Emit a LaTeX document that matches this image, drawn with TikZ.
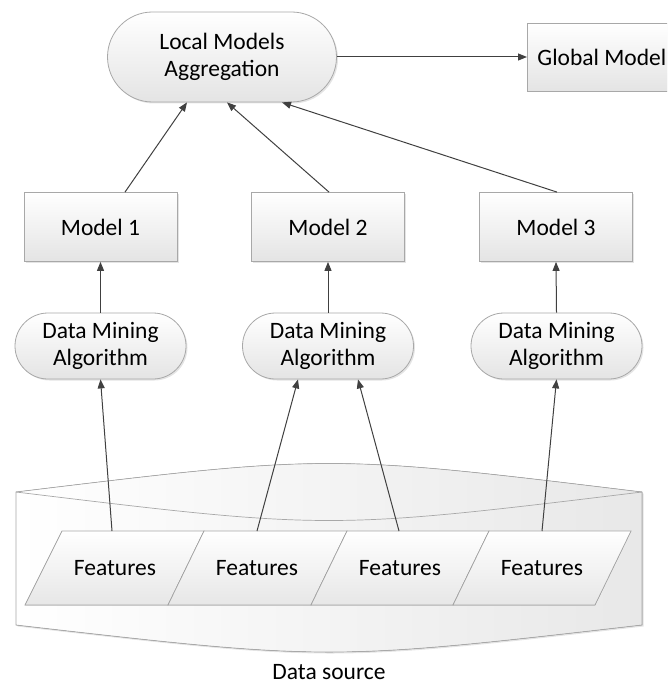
\documentclass[tikz,border=0pt]{standalone}
\usepackage{fontspec}
\setmainfont{Carlito}
\usetikzlibrary{arrows.meta,shapes.misc,shadows}
\definecolor{edgegray}{HTML}{A8A8A8}
\definecolor{arrowgray}{HTML}{404040}
\definecolor{fillgray}{HTML}{E4E4E4}

\begin{document}
\begin{tikzpicture}[x=1pt,y=-1pt,
  every node/.style={font=\fontsize{23.5}{27.5}\selectfont, text=black},
  softshadow/.style={drop shadow={shadow xshift=1.5pt,shadow yshift=-1.5pt,opacity=0.35,fill=black!30}},
  box/.style={rectangle, draw=edgegray, line width=0.8pt, top color=white, bottom color=fillgray,
    softshadow, minimum width=153pt, minimum height=69pt},
  pill/.style={rounded rectangle, draw=edgegray, line width=0.8pt, top color=white, bottom color=fillgray,
    softshadow, align=center, inner sep=0pt},
  featbox/.style={draw=edgegray, line width=0.7pt, top color=white, bottom color=fillgray!90},
  arr/.style={draw=arrowgray, line width=1pt, -{Triangle[length=9pt,width=7pt]}}
]
\useasboundingbox (0,0) rectangle (667,684);
\clip (0,0) rectangle (667,684);

% data source cylinder
\filldraw[draw=edgegray, line width=0.7pt, left color=white, right color=fillgray!85, softshadow]
  (16,492) .. controls (329,454) .. (642,492) -- (642,625)
  .. controls (329,661) .. (16,625) -- cycle;
\draw[edgegray, line width=0.7pt] (16,492) .. controls (329,530) .. (642,492);

% feature parallelograms
\filldraw[featbox] (25,605) -- (62,531) -- (204,531) -- (168,605) -- cycle;
\filldraw[featbox] (168,605) -- (204,531) -- (347,531) -- (311,605) -- cycle;
\filldraw[featbox] (311,605) -- (347,531) -- (489,531) -- (453,605) -- cycle;
\filldraw[featbox] (453,605) -- (489,531) -- (631,531) -- (595,605) -- cycle;
\node (f1) at (115,568) {Features};
\node (f2) at (257,568) {Features};
\node (f3) at (400,568) {Features};
\node (f4) at (542,568) {Features};
\coordinate (f1top) at (112,531);
\coordinate (f2top) at (257,531);
\coordinate (f3top) at (399,531);
\coordinate (f4top) at (542,531);

\node[inner sep=0pt] (src) at (329,672) {Data source};

% mining algorithms
\node[pill, minimum width=171pt, minimum height=66pt] (d1) at (100.5,346) {Data Mining\\Algorithm};
\node[pill, minimum width=171pt, minimum height=66pt] (d2) at (328,346) {Data Mining\\Algorithm};
\node[pill, minimum width=171pt, minimum height=66pt] (d3) at (556.5,346) {Data Mining\\Algorithm};

% local models
\node[box] (m1) at (100.5,227) {Model 1};
\node[box] (m2) at (328,227) {Model 2};
\node[box] (m3) at (556,227) {Model 3};

% aggregation and global model
\node[pill, minimum width=229pt, minimum height=90pt] (lma) at (222,57) {Local Models\\Aggregation};
\node[box, minimum width=149pt, minimum height=68pt, anchor=west] (gm) at (527,57) {Global Model};

% connectors
\draw[arr] (f1top) -- (d1.south);
\draw[arr] (f2top) -- ([xshift=-30pt]d2.south);
\draw[arr] (f3top) -- ([xshift=30pt]d2.south);
\draw[arr] (f4top) -- (d3.south);

\draw[arr] (d1.north) -- (m1.south);
\draw[arr] (d2.north) -- (m2.south);
\draw[arr] (d3.north) -- (m3.south);

\draw[arr] ([xshift=24.5pt]m1.north) -- ([xshift=-35pt]lma.south);
\draw[arr] ([xshift=1pt]m2.north) -- ([xshift=5pt]lma.south);
\draw[arr] ([xshift=1pt]m3.north) -- ([xshift=60pt]lma.south);

\draw[arr] (lma.east) -- (gm.west);
\end{tikzpicture}
\end{document}
